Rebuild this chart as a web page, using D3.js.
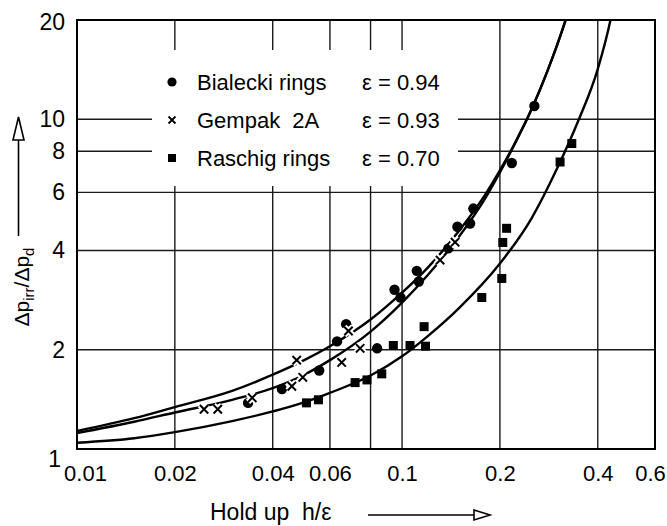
<!DOCTYPE html>
<html>
<head>
<meta charset="utf-8">
<script src="https://cdn.jsdelivr.net/npm/d3@7"></script>
<style>
body { margin: 0; background: #fff; }
svg { display: block; font-family: "Liberation Sans", Arial, sans-serif; }
</style>
</head>
<body>
<svg id="viz"></svg>
<script>
// measured points [h/eps, dp_irr/dp_d]
const bialecki = [[0.0336, 1.38], [0.0427, 1.52], [0.0556, 1.73], [0.0631, 2.12], [0.0673, 2.39], [0.0838, 2.02],
    [0.0948, 3.04], [0.0989, 2.88], [0.111, 3.47], [0.1126, 3.22], [0.1388, 4.06], [0.148, 4.72], [0.1619, 4.83],
    [0.1657, 5.36], [0.2176, 7.37], [0.2553, 10.97]];
const gempak = [[0.0246, 1.32], [0.0271, 1.32], [0.0346, 1.43], [0.0458, 1.55], [0.0474, 1.86], [0.0495, 1.65],
    [0.0652, 1.83], [0.0684, 2.28], [0.0743, 2.02], [0.1309, 3.74], [0.1456, 4.24]];
const raschig = [[0.0508, 1.38], [0.0553, 1.41], [0.0717, 1.59], [0.078, 1.62], [0.0866, 1.69], [0.094, 2.06],
    [0.1058, 2.06], [0.1181, 2.05], [0.1169, 2.35], [0.1759, 2.88], [0.2027, 3.29], [0.2041, 4.23], [0.2097, 4.67],
    [0.3063, 7.42], [0.3328, 8.44]];

// the drawn curves
const bialeckiCurve = [[0.01, 1.134], [0.015, 1.24], [0.02, 1.34], [0.03, 1.5], [0.04, 1.68], [0.05, 1.86], [0.06, 2.05],
    [0.08, 2.47], [0.1, 2.98], [0.12, 3.55], [0.15, 4.6], [0.18, 5.9], [0.2, 7.0], [0.22, 8.3], [0.25, 10.7],
    [0.28, 14.0], [0.3, 16.8], [0.32, 20.3], [0.33, 22.5]];
const gempakCurve = [[0.01, 1.118], [0.015, 1.21], [0.02, 1.29], [0.03, 1.41], [0.04, 1.53], [0.05, 1.68], [0.06, 1.86],
    [0.08, 2.27], [0.1, 2.78], [0.12, 3.37], [0.15, 4.42], [0.18, 5.75], [0.2, 6.9], [0.22, 8.25], [0.25, 10.7],
    [0.28, 14.0], [0.3, 16.8], [0.32, 20.3], [0.33, 22.5]];
const raschigCurve = [[0.01, 1.045], [0.015, 1.078], [0.02, 1.125], [0.03, 1.215], [0.04, 1.3], [0.05, 1.385],
    [0.06, 1.48], [0.08, 1.67], [0.1, 1.91], [0.12, 2.2], [0.15, 2.68], [0.2, 3.65], [0.25, 5.0], [0.3, 7.1],
    [0.35, 10.0], [0.4, 14.2], [0.44, 20.5], [0.45, 23]];

const xTicks = [0.01, 0.02, 0.04, 0.06, 0.1, 0.2, 0.4, 0.6];
const xGrid = [0.02, 0.04, 0.06, 0.08, 0.1, 0.2, 0.4];
const yTicks = [1, 2, 4, 6, 8, 10, 20];
const yGrid = [2, 4, 6, 8, 10];

const seriesNames = ["Bialecki rings", "Gempak  2A", "Raschig rings"];
const epsLabels = ["ε = 0.94", "ε = 0.93", "ε = 0.70"];
const markers = ["circle", "cross", "square"];

const app = {
    init() {
        this.draw();
    },

    draw() {
        const width = 667;
        const height = 526;
        const left = 77, right = 655, top = 20, bottom = 449;

        const svg = d3.select("#viz").attr("width", width).attr("height", height);

        const x = d3.scaleLog().domain([0.01, 0.6]).range([left, right]);
        const y = d3.scaleLog().domain([1, 20]).range([bottom, top]);

        // grid
        svg.append("g").selectAll("line").data(xGrid).enter().append("line")
            .attr("x1", d => x(d)).attr("x2", d => x(d)).attr("y1", top).attr("y2", bottom)
            .attr("stroke", "#1a1a1a").attr("stroke-width", 1.4);
        svg.append("g").selectAll("line").data(yGrid).enter().append("line")
            .attr("x1", left).attr("x2", right).attr("y1", d => y(d)).attr("y2", d => y(d))
            .attr("stroke", "#1a1a1a").attr("stroke-width", 1.4);

        // legend box covers the grid
        const legend = svg.append("g");
        legend.append("rect").attr("x", 152).attr("y", 50).attr("width", 306).attr("height", 136).attr("fill", "#fff");
        markers.forEach((m, i) => {
            const cy = 82 + i * 38;
            if (m === "circle") legend.append("circle").attr("cx", 172).attr("cy", cy).attr("r", 4.6).attr("fill", "#000");
            if (m === "cross") legend.append("path").attr("d", `M168.5,${cy - 3.5}L175.5,${cy + 3.5}M168.5,${cy + 3.5}L175.5,${cy - 3.5}`)
                .attr("stroke", "#000").attr("stroke-width", 1.8);
            if (m === "square") legend.append("rect").attr("x", 168).attr("y", cy - 4).attr("width", 8).attr("height", 8).attr("fill", "#000");
            legend.append("text").attr("x", 197).attr("y", cy + 8).text(seriesNames[i]).style("font-size", "22px").attr("xml:space", "preserve");
            legend.append("text").attr("x", 362).attr("y", cy + 8).text(epsLabels[i]).style("font-size", "22px");
        });

        // frame
        svg.append("rect").attr("x", left).attr("y", top).attr("width", right - left).attr("height", bottom - top)
            .attr("fill", "none").attr("stroke", "#000").attr("stroke-width", 2);

        // curves
        svg.append("clipPath").attr("id", "clip").append("rect")
            .attr("x", left).attr("y", top).attr("width", right - left).attr("height", bottom - top);
        const line = d3.line().x(d => x(d[0])).y(d => y(d[1])).curve(d3.curveMonotoneX);
        [bialeckiCurve, gempakCurve, raschigCurve].forEach(c => {
            svg.append("path").attr("d", line(c)).attr("fill", "none").attr("stroke", "#000")
                .attr("stroke-width", 2.4).attr("clip-path", "url(#clip)");
        });

        // points
        svg.append("g").selectAll("circle").data(bialecki).enter().append("circle")
            .attr("cx", d => x(d[0])).attr("cy", d => y(d[1])).attr("r", 5.2).attr("fill", "#000");
        svg.append("g").selectAll("rect").data(raschig).enter().append("rect")
            .attr("x", d => x(d[0]) - 4.5).attr("y", d => y(d[1]) - 4.5).attr("width", 9).attr("height", 9).attr("fill", "#000");
        const crossPath = d => {
            const cx = x(d[0]), cy = y(d[1]), s = 4.2;
            return `M${cx - s},${cy - s}L${cx + s},${cy + s}M${cx - s},${cy + s}L${cx + s},${cy - s}`;
        };
        const crosses = svg.append("g");
        crosses.selectAll("path.halo").data(gempak).enter().append("path").attr("class", "halo")
            .attr("d", crossPath).attr("stroke", "#fff").attr("stroke-width", 6);
        crosses.selectAll("path.mark").data(gempak).enter().append("path").attr("class", "mark")
            .attr("d", crossPath).attr("stroke", "#000").attr("stroke-width", 2);

        // axes
        const xAxis = svg.append("g").attr("transform", `translate(0, ${bottom})`)
            .call(d3.axisBottom(x).tickValues(xTicks).tickSize(0).tickPadding(16).tickFormat(d => d));
        xAxis.select(".domain").remove();
        xAxis.selectAll("text").style("font-size", "22px").attr("fill", "#000").attr("font-family", null)
            .attr("dx", d => d === 0.01 ? 8 : d === 0.6 ? -5 : 0);

        const yAxis = svg.append("g").attr("transform", `translate(${left}, 0)`)
            .call(d3.axisLeft(y).tickValues(yTicks).tickSize(0).tickPadding(12).tickFormat(d => d));
        yAxis.select(".domain").remove();
        yAxis.selectAll("text").style("font-size", "23px").attr("fill", "#000").attr("font-family", null)
            .attr("dx", d => d === 1 ? -4 : 0)
            .attr("dy", d => d === 1 ? "0.75em" : d === 20 ? "0.42em" : "0.32em");

        // axis titles with arrows
        svg.append("text").attr("x", 210).attr("y", 520).style("font-size", "23px").attr("xml:space", "preserve")
            .text("Hold up  h/ε");
        svg.append("line").attr("x1", 368).attr("x2", 474).attr("y1", 515).attr("y2", 515).attr("stroke", "#000").attr("stroke-width", 1.6);
        svg.append("path").attr("d", "M474,510L490,515L474,520Z").attr("fill", "#fff").attr("stroke", "#000").attr("stroke-width", 1.6);

        const yt = svg.append("text").attr("transform", "translate(29, 287) rotate(-90)")
            .attr("text-anchor", "middle").style("font-size", "21px");
        yt.append("tspan").text("Δp");
        yt.append("tspan").attr("dy", 5).style("font-size", "15px").text("irr");
        yt.append("tspan").attr("dy", -5).text("/Δp");
        yt.append("tspan").attr("dy", 5).style("font-size", "15px").text("d");
        svg.append("line").attr("x1", 18.5).attr("x2", 18.5).attr("y1", 236).attr("y2", 140).attr("stroke", "#000").attr("stroke-width", 1.6);
        svg.append("path").attr("d", "M13,140L18.5,117L24,140Z").attr("fill", "#fff").attr("stroke", "#000").attr("stroke-width", 1.6);
    }
};

window.addEventListener("DOMContentLoaded", () => app.init());
</script>
</body>
</html>
